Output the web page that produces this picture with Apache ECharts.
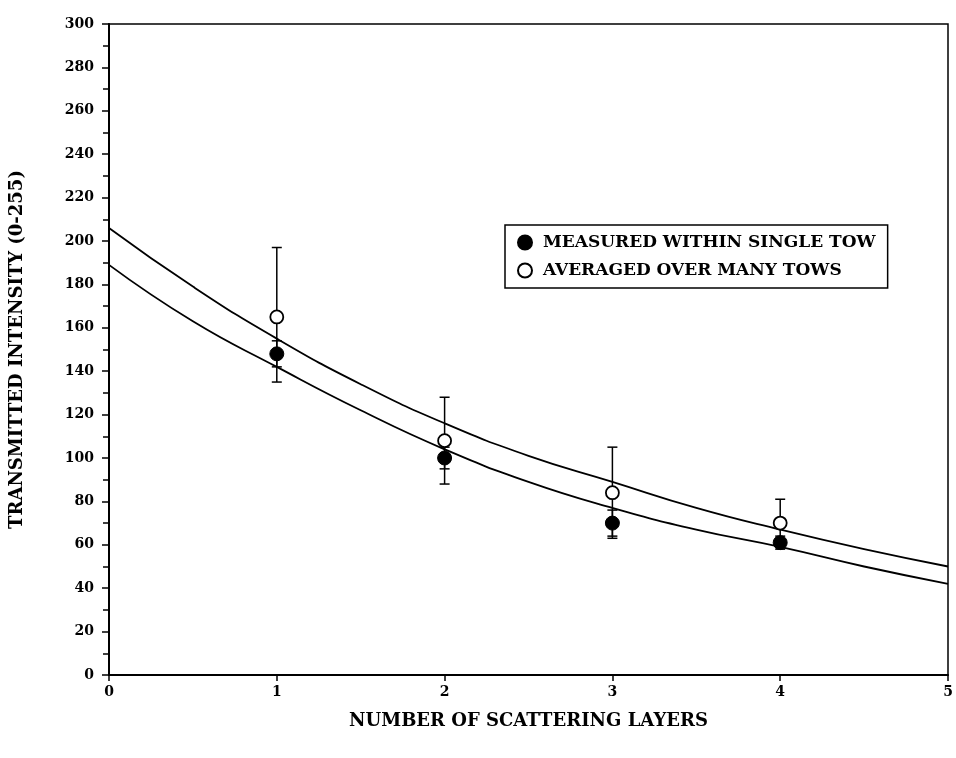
<!DOCTYPE html>
<html>
<head>
<meta charset="utf-8">
<script src="https://cdn.jsdelivr.net/npm/echarts@6/dist/echarts.min.js"></script>
<style>
html,body{margin:0;padding:0;background:#fff;}
#chart{width:956px;height:758px;}
</style>
</head>
<body>
<div id="chart"></div>
<script>
// Fitted curves
const fitX = [0, 0.5, 1, 1.5, 2, 2.5, 3, 3.5, 4, 4.5, 5];
const upperFit = [206, 179, 155, 134, 116, 101, 89, 77, 67, 58, 50];
const lowerFit = [189, 163, 142, 122, 104, 89, 77, 67, 59, 50, 42];

// Measured points
const pointX = [1, 2, 3, 4];
const singleTow = [148, 100, 70, 61];
const singleLow = [142, 95, 64, 58];
const singleHigh = [154, 105, 76, 64];
const manyTows = [165, 108, 84, 70];
const manyLow = [135, 88, 63, 59];
const manyHigh = [197, 128, 105, 81];

const xTicks = [0, 1, 2, 3, 4, 5];
const yTicks = [0, 20, 40, 60, 80, 100, 120, 140, 160, 180, 200, 220, 240, 260, 280, 300];

const nameSingle = 'MEASURED WITHIN SINGLE TOW';
const nameMany = 'AVERAGED OVER MANY TOWS';
const FONT = '"DejaVu Serif", serif';

function errData(xs, lo, hi) {
  return xs.map((x, i) => [x, lo[i], hi[i]]);
}
function errRender(params, api) {
  const x = api.value(0);
  const p1 = api.coord([x, api.value(1)]);
  const p2 = api.coord([x, api.value(2)]);
  const hw = 5;
  const st = { stroke: '#000', lineWidth: 1.5, fill: null };
  return {
    type: 'group',
    children: [
      { type: 'line', shape: { x1: p1[0], y1: p1[1], x2: p2[0], y2: p2[1] }, style: st },
      { type: 'line', shape: { x1: p1[0] - hw, y1: p1[1], x2: p1[0] + hw, y2: p1[1] }, style: st },
      { type: 'line', shape: { x1: p2[0] - hw, y1: p2[1], x2: p2[0] + hw, y2: p2[1] }, style: st }
    ]
  };
}

const chart = echarts.init(document.getElementById('chart'), null, { renderer: 'canvas' });
chart.setOption({
  backgroundColor: '#fff',
  animation: false,
  grid: { left: 108, right: 8, top: 24, bottom: 83, show: true, borderColor: '#000', borderWidth: 1.5 },
  legend: {
    data: [nameSingle, nameMany],
    orient: 'vertical',
    left: 505,
    top: 225,
    itemWidth: 14,
    itemHeight: 14,
    itemGap: 11,
    padding: [9, 12, 9, 12],
    borderColor: '#000',
    borderWidth: 1.5,
    textStyle: { fontFamily: FONT, fontWeight: 'bold', fontSize: 17, color: '#000', padding: [0, 0, 0, 6] }
  },
  xAxis: {
    type: 'value', min: 0, max: 5, interval: 1,
    name: 'NUMBER OF SCATTERING LAYERS',
    nameLocation: 'middle', nameGap: 37,
    nameTextStyle: { fontFamily: FONT, fontWeight: 'bold', fontSize: 18, color: '#000' },
    axisLine: { lineStyle: { color: '#000', width: 2 } },
    axisTick: { show: true, length: 6, lineStyle: { color: '#000', width: 1.5 } },
    axisLabel: { fontFamily: FONT, fontWeight: 'bold', fontSize: 14, color: '#000', margin: 10,
      formatter: v => xTicks.includes(v) ? String(v) : '' },
    splitLine: { show: false }
  },
  yAxis: {
    type: 'value', min: 0, max: 300, interval: 20,
    name: 'TRANSMITTED INTENSITY (0-255)',
    nameLocation: 'middle', nameGap: 83,
    nameTextStyle: { fontFamily: FONT, fontWeight: 'bold', fontSize: 18, color: '#000' },
    axisLine: { lineStyle: { color: '#000', width: 2 } },
    axisTick: { show: true, length: 7, lineStyle: { color: '#000', width: 1.5 } },
    minorTick: { show: true, splitNumber: 2, length: 6, lineStyle: { color: '#000', width: 1.5 } },
    axisLabel: { fontFamily: FONT, fontWeight: 'bold', fontSize: 14, color: '#000', margin: 15,
      formatter: v => yTicks.includes(v) ? String(v) : '' },
    splitLine: { show: false }
  },
  series: [
    { type: 'line', data: fitX.map((x, i) => [x, upperFit[i]]), smooth: true, symbol: 'none',
      lineStyle: { color: '#000', width: 1.8 }, z: 1, silent: true },
    { type: 'line', data: fitX.map((x, i) => [x, lowerFit[i]]), smooth: true, symbol: 'none',
      lineStyle: { color: '#000', width: 1.8 }, z: 1, silent: true },
    { type: 'custom', renderItem: errRender, data: errData(pointX, manyLow, manyHigh),
      encode: { x: 0, y: [1, 2] }, z: 2, silent: true },
    { type: 'custom', renderItem: errRender, data: errData(pointX, singleLow, singleHigh),
      encode: { x: 0, y: [1, 2] }, z: 2, silent: true },
    { name: nameSingle, type: 'scatter', data: pointX.map((x, i) => [x, singleTow[i]]),
      symbol: 'circle', symbolSize: 14, itemStyle: { color: '#000', borderColor: '#000', borderWidth: 1, opacity: 1 }, z: 4 },
    { name: nameMany, type: 'scatter', data: pointX.map((x, i) => [x, manyTows[i]]),
      symbol: 'circle', symbolSize: 13, itemStyle: { color: '#fff', borderColor: '#000', borderWidth: 1.8, opacity: 1 }, z: 5 }
  ]
});
</script>
</body>
</html>
